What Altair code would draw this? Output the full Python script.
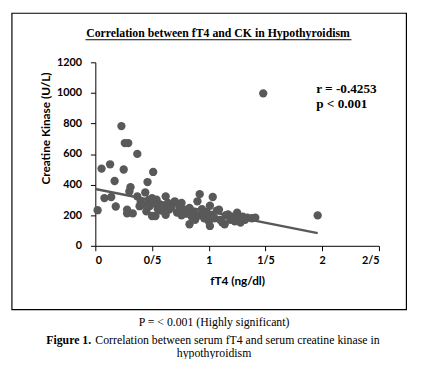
import altair as alt
import pandas as pd

# ---- data ----
ft4 = [0.02, 0.055, 0.08, 0.13, 0.14, 0.17, 0.18, 0.23, 0.25, 0.26, 0.29, 0.28, 0.28, 0.30, 0.31,
       0.33, 0.37, 0.37, 0.39, 0.40, 0.42, 0.44, 0.45, 0.46, 0.47, 0.48, 0.50, 0.50, 0.51, 0.52,
       0.53, 0.54, 0.55, 0.57, 0.58, 0.60, 0.62, 0.62, 0.64, 0.65, 0.67, 0.70, 0.72, 0.74, 0.76,
       0.76, 0.78, 0.80, 0.83, 0.83, 0.85, 0.87, 0.88, 0.90, 0.92, 0.92, 0.94, 0.96, 0.98, 1.00,
       1.01, 1.01, 1.02, 1.035, 1.05, 1.07, 1.09, 1.10, 1.12, 1.14, 1.15, 1.17, 1.19, 1.21, 1.23,
       1.25, 1.25, 1.28, 1.30, 1.32, 1.34, 1.38, 1.41, 1.48, 1.96]
ck = [233, 505, 312, 533, 319, 424, 257, 783, 499, 672, 672, 237, 212, 355, 383,
      212, 601, 323, 259, 290, 270, 349, 225, 417, 300, 260, 312, 195, 483, 280,
      195, 302, 240, 270, 230, 260, 323, 202, 280, 237, 250, 291, 218, 260, 280,
      200, 230, 210, 248, 141, 190, 220, 170, 291, 338, 200, 240, 180, 220, 160,
      262, 130, 200, 319, 180, 230, 237, 170, 152, 141, 200, 205, 170, 190, 160,
      216, 173, 152, 190, 170, 184, 180, 184, 997, 199]

trend_ft4 = [0.0, 1.96]
trend_ck = [372, 83]

x_ticks = [0, 0.5, 1, 1.5, 2, 2.5]
x_tick_labels = ["0", "0/5", "1", "1/5", "2", "2/5"]
y_ticks = [0, 200, 400, 600, 800, 1000, 1200]

chart_title = "Correlation between fT4 and CK in Hypothyroidism"
stat_lines = ["r = -0.4253", "p < 0.001"]
caption_p = "P = < 0.001 (Highly significant)"
caption_bold = "Figure 1."
caption_rest1 = "Correlation between serum fT4 and serum creatine kinase in"
caption_rest2 = "hypothyroidism"

# ---- geometry ----
W, H = 289, 187
GREY = "#595959"
SERIF = "Liberation Serif"
SANS = "Lato"

pts = pd.DataFrame({"ft4": ft4, "ck": ck})
trend = pd.DataFrame({"ft4": trend_ft4, "ck": trend_ck})

label_expr = " : ".join(
    f"datum.value == {v} ? '{l}'" for v, l in zip(x_ticks, x_tick_labels)
) + " : datum.label"

xs = alt.Scale(domain=[0, 2.5], nice=False, zero=False)
ys = alt.Scale(domain=[0, 1200], nice=False)

x_axis = alt.Axis(values=x_ticks, labelExpr=label_expr, title="fT4 (ng/dl)",
                  titleY=35, titleBaseline="middle", labelPadding=4, labelOverlap=False)
y_axis = alt.Axis(values=y_ticks, format="d", title="Creatine Kinase (U/L)", labelOverlap=False,
                  titleX=-51, titleY=67, titleBaseline="middle", labelPadding=9)

points = alt.Chart(pts).mark_circle(size=72, color=GREY, opacity=1).encode(
    x=alt.X("ft4:Q", scale=xs, axis=x_axis),
    y=alt.Y("ck:Q", scale=ys, axis=y_axis),
)

line = alt.Chart(trend).mark_line(color=GREY, strokeWidth=2.5).encode(
    x=alt.X("ft4:Q", scale=xs, axis=x_axis),
    y=alt.Y("ck:Q", scale=ys, axis=y_axis),
)

one = alt.Data(values=[{"a": 1}])

border = alt.Chart(one).mark_rect(filled=False, stroke="black", strokeWidth=1.2).encode(
    x=alt.value(-85), x2=alt.value(317), y=alt.value(-50), y2=alt.value(252)
)

title_txt = alt.Chart(one).mark_text(font=SERIF, fontSize=12, fontWeight="bold",
                                     color="black", align="center", baseline="middle").encode(
    x=alt.value(125), y=alt.value(-30), text=alt.value(chart_title)
)
underline = alt.Chart(one).mark_rule(color="black", strokeWidth=1).encode(
    x=alt.value(-10), x2=alt.value(261), y=alt.value(-23)
)

stat1 = alt.Chart(one).mark_text(font=SERIF, fontSize=13.5, fontWeight="bold",
                                 color="black", align="left", baseline="middle").encode(
    x=alt.value(225), y=alt.value(27), text=alt.value(stat_lines[0])
)
stat2 = alt.Chart(one).mark_text(font=SERIF, fontSize=13.5, fontWeight="bold",
                                 color="black", align="left", baseline="middle").encode(
    x=alt.value(225), y=alt.value(43), text=alt.value(stat_lines[1])
)

cap_p = alt.Chart(one).mark_text(font=SERIF, fontSize=12, color="black",
                                 align="center", baseline="middle").encode(
    x=alt.value(121), y=alt.value(265), text=alt.value(caption_p)
)
cap_b = alt.Chart(one).mark_text(font=SERIF, fontSize=12, fontWeight="bold", color="black",
                                 align="left", baseline="middle").encode(
    x=alt.value(-50), y=alt.value(283), text=alt.value(caption_bold)
)
cap_r1 = alt.Chart(one).mark_text(font=SERIF, fontSize=12, color="black",
                                  align="left", baseline="middle").encode(
    x=alt.value(0), y=alt.value(283), text=alt.value(caption_rest1)
)
cap_r2 = alt.Chart(one).mark_text(font=SERIF, fontSize=12, color="black",
                                  align="center", baseline="middle").encode(
    x=alt.value(121), y=alt.value(296), text=alt.value(caption_rest2)
)

chart = alt.layer(
    border, title_txt, underline, line, points, stat1, stat2, cap_p, cap_b, cap_r1, cap_r2
).properties(
    width=W, height=H,
    padding={"left": 89, "top": 52, "right": 50, "bottom": 112},
    autosize=alt.AutoSizeParams(type="none"),
    background="white",
).configure_view(stroke=None).configure_axis(
    grid=False, domainColor="black", tickColor="black", tickSize=5,
    labelFont=SANS, labelFontSize=11, labelFontWeight="bold", labelColor="black",
    titleFont=SANS, titleFontSize=12, titleFontWeight="bold", titleColor="black",
)

chart.save("out.html", embed_options={"renderer": "svg", "actions": False})
